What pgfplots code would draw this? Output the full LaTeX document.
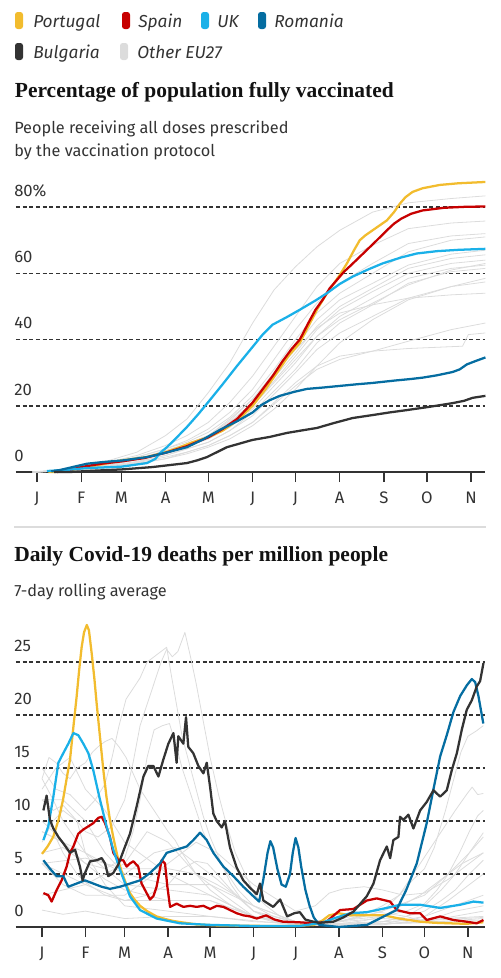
\documentclass[border=0pt]{standalone}
\usepackage{fontspec}
\setmainfont{Fira Sans}
\newfontfamily\titlefont{Liberation Serif}
\usepackage{pgfplots}
\pgfplotsset{compat=1.18}
\definecolor{cPT}{HTML}{F2BC2E}
\definecolor{cES}{HTML}{C70000}
\definecolor{cUK}{HTML}{1AB0E8}
\definecolor{cRO}{HTML}{056DA1}
\definecolor{cBG}{HTML}{333333}
\definecolor{cGrey}{HTML}{DCDCDC}
\definecolor{c33}{HTML}{333333}
\definecolor{cTitle}{HTML}{121212}
\newcommand{\ticksize}{\fontsize{12.5}{14}\selectfont}
\pgfplotsset{
  gchart/.style={
    scale only axis,
    width=351.75pt,
    axis x line=bottom, axis y line=left,
    x axis line style={-, draw=c33, line width=1.3pt},
    y axis line style={draw=none},
    xtick={0,31,59,90,120,151,181,212,243,273,304},
    xticklabels={J,F,M,A,M,J,J,A,S,O,N},
    xtick align=outside, ytick align=inside,
    major tick length=7.5pt,
    xtick style={draw=c33, line width=1pt},
    ytick style={draw=none},
    ymajorgrids,
    major grid style={draw=c33, line width=1.1pt, dash pattern=on 3pt off 2pt},
    tick label style={font=\ticksize, text=c33},
    xticklabel style={anchor=north, inner sep=0pt, yshift=-7pt},
    yticklabel style={anchor=base west, inner sep=0pt, xshift=-1.5pt, yshift=8pt},
    clip=false,
  },
  grey/.style={draw=cGrey, line width=0.6pt, line join=round},
  main/.style={line width=1.7pt, line join=round},
}
\begin{document}
\begin{tikzpicture}
\useasboundingbox (0,0) rectangle (375pt,-733.5pt);
% legend
\tikzset{sw/.style={rounded corners=2pt, fill=#1}}
\def\legfont{\fontsize{13}{15}\selectfont\itshape\color{c33}}
\fill[sw=cPT] (11.25pt,-9pt) rectangle (17.25pt,-21.75pt);
\node[anchor=base west, inner sep=0pt] at (24.75pt,-20.8pt) {\legfont Portugal};
\fill[sw=cES] (91.5pt,-9pt) rectangle (97.5pt,-21.75pt);
\node[anchor=base west, inner sep=0pt] at (103.5pt,-20.8pt) {\legfont Spain};
\fill[sw=cUK] (150.75pt,-9pt) rectangle (156.75pt,-21.75pt);
\node[anchor=base west, inner sep=0pt] at (162.75pt,-20.8pt) {\legfont UK};
\fill[sw=cRO] (193.5pt,-9pt) rectangle (199.5pt,-21.75pt);
\node[anchor=base west, inner sep=0pt] at (205.5pt,-20.8pt) {\legfont Romania};
\fill[sw=cBG] (11.25pt,-32.25pt) rectangle (17.25pt,-45pt);
\node[anchor=base west, inner sep=0pt] at (24.75pt,-43.7pt) {\legfont Bulgaria};
\fill[sw=cGrey] (90pt,-32.25pt) rectangle (96pt,-45pt);
\node[anchor=base west, inner sep=0pt] at (102.75pt,-43.7pt) {\legfont Other EU27};
% titles
\def\tfont{\titlefont\bfseries\fontsize{16.1}{19}\selectfont\color{cTitle}}
\def\sfont{\fontsize{12.2}{14}\selectfont\color{c33}}
\node[anchor=base west, inner sep=0pt] at (11pt,-72.75pt) {\tfont Percentage of population fully vaccinated};
\node[anchor=base west, inner sep=0pt] at (10.5pt,-99.75pt) {\sfont People receiving all doses prescribed};
\node[anchor=base west, inner sep=0pt] at (10.5pt,-117pt) {\sfont by the vaccination protocol};
\draw[cGrey, line width=0.8pt] (10.5pt,-395.25pt) -- (364.5pt,-395.25pt);
\node[anchor=base west, inner sep=0pt] at (10.5pt,-420.75pt) {\tfont Daily Covid-19 deaths per million people};
\node[anchor=base west, inner sep=0pt] at (10.5pt,-447pt) {\sfont 7-day rolling average};

% ---------------- chart 1 ----------------
\begin{axis}[gchart, at={(12pt,-354pt)}, anchor=south west,
  height=223.5pt, xmin=-14.7, xmax=313.7, ymin=0, ymax=90,
  ytick={0,20,40,60,80}, yticklabels={0,20,40,60,80\%}]
\addplot[grey] coordinates {(-3,0)(20,0.8)(45,2.8)(70,6)(90,11)(105,16)(120,24)(135,33)(151,45)(166,55)(181,62)(196,68)(212,73)(235,78.5)(260,81.3)(290,82.6)(314,83.4)};
\addplot[grey] coordinates {(-3,0)(20,0.8)(45,2.5)(70,5)(90,8)(105,11)(120,15)(135,21)(151,29)(166,38)(181,47)(196,56)(212,63)(235,68.5)(260,73.5)(290,75.2)(314,75.8)};
\addplot[grey] coordinates {(-3,0)(20,0.6)(45,2)(70,4.5)(90,7)(105,9.5)(120,13)(135,18)(151,25)(166,34)(181,43)(196,51)(212,57)(235,63)(260,69)(290,71.3)(314,72)};
\addplot[grey] coordinates {(-3,0)(20,0.5)(45,2)(70,4.5)(90,7)(105,9)(120,12)(135,16.5)(151,23)(166,31)(181,40)(196,48)(212,54)(235,60)(260,66.5)(290,70)(314,71)};
\addplot[grey] coordinates {(-3,0)(20,0.5)(45,1.8)(70,4)(90,6.5)(105,8.5)(120,11)(135,15.5)(151,22)(166,30)(181,38)(196,46)(212,52)(235,57)(260,62.5)(290,65.8)(314,67)};
\addplot[grey] coordinates {(-3,0)(20,0.5)(45,1.6)(70,3.8)(90,6)(105,8.5)(120,11)(135,15)(151,21)(166,28.5)(181,36)(196,44)(212,50)(235,55.5)(260,61.5)(290,64.5)(314,65.6)};
\addplot[grey] coordinates {(-3,0)(20,0.4)(45,1.6)(70,3.8)(90,6)(105,8)(120,10)(135,14)(151,20)(166,27.5)(181,35)(196,43)(212,49)(235,54.5)(260,60)(290,63)(314,64)};
\addplot[grey] coordinates {(-3,0)(20,0.5)(45,1.8)(70,3.8)(90,6)(105,7.8)(120,10)(135,13.5)(151,19)(166,26)(181,33)(196,41)(212,47)(235,52.5)(260,58.5)(290,61.5)(314,62.5)};
\addplot[grey] coordinates {(-3,0)(20,0.4)(45,1.5)(70,3.2)(90,5)(105,7)(120,9)(135,12.5)(151,18)(166,24.5)(181,31)(196,39)(212,45)(235,50.5)(260,57)(290,60.5)(314,61.5)};
\addplot[grey] coordinates {(-3,0)(20,0.4)(45,1.3)(70,3)(90,5)(105,7)(120,9)(135,12.5)(151,17)(166,23.5)(181,30)(196,37)(212,42)(235,47)(260,52.5)(290,56)(314,57.4)};
\addplot[grey] coordinates {(-3,0)(20,0.5)(45,1.6)(70,3.8)(90,6)(105,8.5)(120,11)(135,16)(151,22)(166,29.5)(181,37)(196,43.5)(212,48)(235,50.5)(260,52.5)(290,53.5)(314,54)};
\addplot[grey] coordinates {(-3,0)(20,0.3)(45,1.2)(70,2.6)(90,4)(105,6)(120,8)(135,11)(151,15)(166,20.5)(181,26)(196,31)(212,34)(235,36.5)(260,39.5)(290,43)(314,45)};
\addplot[grey] coordinates {(-3,0)(20,0.4)(45,1.3)(70,2.8)(90,4.5)(105,6)(120,8)(135,11)(151,15)(166,21)(181,27)(196,32)(212,35)(235,36.5)(260,37.3)(298,38)(302,41.5)(314,42)};
\addplot[grey] coordinates {(-3,0)(20,0.6)(45,1.8)(70,3.8)(90,6)(105,8)(120,10.5)(135,15)(151,20)(166,27)(181,34)(196,41)(212,46)(235,51)(260,56.5)(290,61)(314,63)};
\addplot[grey] coordinates {(-3,0)(20,0.3)(45,1)(70,2.5)(90,4)(105,5.5)(120,7.5)(135,10)(151,14)(166,19)(181,25)(196,32)(212,39)(235,46)(260,52)(290,56)(314,58.5)};
% Portugal
\addplot[main, cPT] coordinates {(8,0)(12,0)(20,0.3)(31,1.2)(45,2.3)(59,3.5)(77,4.5)(90,6)(100,7.5)(109,9)(120,10.5)(130,12.5)(140,15.5)(151,20)(160,25)(168,30)(176,35)(184,39)(190,44)(196,49)(203,54)(208,57)(212,59.5)(217,63)(222,67)(226,70)(230,71.5)(235,73)(240,74.5)(245,76)(250,78.5)(254,81)(258,83)(263,84.6)(270,85.7)(282,86.7)(295,87.2)(314,87.6)};
% Spain
\addplot[main, cES] coordinates {(14,0)(22,0.5)(31,1.5)(45,2.5)(59,3.2)(75,4.2)(90,5.8)(105,7.8)(120,10.5)(130,13)(140,16)(151,21)(158,25)(165,29)(172,33.5)(178,37)(184,40)(190,45)(195,49)(200,52)(205,55.5)(210,58)(215,60.5)(220,62.5)(226,65)(232,67.5)(238,70)(245,73)(250,75)(255,76.5)(262,78)(270,79)(285,79.8)(300,80.1)(314,80.2)};
% UK
\addplot[main, cUK] coordinates {(7,0.3)(20,0.6)(35,1.2)(59,1.6)(77,2.7)(83,4)(86,5.7)(91,7.5)(98,10.5)(105,13.6)(113,17.5)(121,21.7)(130,26.5)(140,32)(151,37.8)(158,41.5)(165,44.5)(175,46.8)(184,49)(195,51.8)(203,54)(212,56.8)(221,59)(232,61.2)(242,63)(255,64.8)(266,66)(280,66.7)(295,67.1)(314,67.4)};
% Romania
\addplot[main, cRO] coordinates {(10,0.2)(16,0.6)(25,1.5)(35,2.5)(46,3)(60,3.5)(77,4.5)(90,5.8)(105,7.5)(117,10)(128,12.7)(140,15.3)(151,18)(157,20.2)(163,21.7)(170,23)(180,24.2)(189,25.1)(200,25.5)(212,26)(224,26.5)(235,26.9)(250,27.6)(262,28.1)(270,28.5)(280,29.2)(291,30.2)(296,31)(301,32.5)(307,33.5)(314,34.6)};
% Bulgaria
\addplot[main, cBG] coordinates {(12,0)(23,0)(40,0.4)(60,0.8)(81,1.5)(95,2.2)(105,2.7)(112,3.5)(119,4.5)(126,6)(133,7.5)(142,8.6)(151,9.7)(163,10.6)(175,11.8)(186,12.6)(196,13.3)(208,14.8)(221,16.3)(235,17.2)(247,18)(259,18.7)(275,19.7)(291,20.8)(299,21.5)(305,22.4)(314,23)};
\end{axis}

% ---------------- chart 2 ----------------
\begin{axis}[gchart, at={(12pt,-695.25pt)}, anchor=south west,
  height=230.5pt, xmin=-18.55, xmax=316.2, ymin=0, ymax=29,
  ytick={0,5,10,15,20,25}, yticklabels={0,5,10,15,20,25}]
\addplot[grey] coordinates {(0,12)(8,11)(15,11.5)(25,10)(31,9)(40,8.5)(50,9.5)(59,12)(65,15.5)(70,19)(75,21)(80,23)(85,25)(89,26.2)(93,25.5)(97,26)(102,27.8)(106,25.5)(110,23)(115,19.5)(120,16)(126,12.5)(131,10)(138,7)(145,5)(152,3)(160,2)(170,1)(181,0.5)(200,0.2)(212,0.3)(230,0.6)(243,1)(260,1.5)(273,2.2)(282,3.5)(290,5)(298,7)(305,9)(311,10.5)(315,11)};
\addplot[grey] coordinates {(0,15)(5,14)(10,13)(20,12.5)(31,11)(38,12)(45,13.5)(50,16)(55,19)(60,21.5)(65,22.5)(70,23.5)(75,25)(80,25.5)(85,26)(89,26.4)(92,24)(96,21)(100,18)(105,15.5)(110,13)(115,10.5)(120,8.5)(128,6)(135,4)(143,2.5)(151,1.5)(165,0.6)(181,0.3)(212,0.2)(243,0.5)(260,1)(273,1.5)(285,2.5)(295,3.5)(305,5)(315,6.3)};
\addplot[grey] coordinates {(0,14)(5,16)(10,15.5)(15,14.5)(20,14)(25,15)(31,15.5)(36,16.5)(40,17)(45,17.5)(50,17.8)(55,17)(60,16)(65,14.5)(70,13)(75,12)(80,11)(85,10)(90,9)(95,8.2)(100,7)(110,5)(120,3.5)(130,2.5)(140,1.6)(151,1)(165,0.5)(181,0.2)(212,0.1)(243,0.5)(260,1)(273,2)(285,3.5)(295,5)(305,7)(315,8.5)};
\addplot[grey] coordinates {(0,10)(8,9)(15,7)(25,5)(31,4.2)(45,3)(59,2.5)(75,3)(90,4)(100,5.5)(110,6.2)(118,6)(125,5)(135,3.5)(151,1.5)(165,0.8)(181,0.3)(212,0.5)(230,1.2)(243,2)(255,3)(265,4.5)(273,5.5)(280,7.5)(288,11)(294,14)(299,16.5)(304,18)(310,18.5)(315,19)};
\addplot[grey] coordinates {(0,12)(15,12)(31,10)(45,7)(59,5)(90,4)(120,4)(151,2)(181,0.5)(212,0.5)(230,1)(243,1.5)(255,3)(265,5)(275,7)(285,9)(295,11)(303,12.5)(307,13.2)(311,12.5)(315,12.6)};
\addplot[grey] coordinates {(0,14)(8,12)(15,10)(31,7)(45,5.5)(59,4)(90,3.5)(120,3)(151,1)(181,0.3)(212,0.5)(243,1.5)(273,3)(290,5)(305,7)(315,8.9)};
\addplot[grey] coordinates {(0,7)(15,7.5)(31,6)(45,5.5)(59,6.5)(65,9)(70,12)(75,16)(80,18.6)(86,19)(91,19.2)(96,17)(100,15)(105,13)(110,11)(115,9)(120,7.5)(130,5.5)(140,3.5)(151,2)(165,1)(181,0.4)(212,0.2)(243,0.2)(260,0.5)(273,1)(290,2.5)(305,4)(315,5)};
\addplot[grey] coordinates {(0,9)(15,8)(31,7)(45,6)(59,5)(70,6)(80,7)(95,7.5)(110,6)(125,4.5)(151,1.5)(181,0.5)(212,0.5)(243,0.8)(273,0.6)(315,0.9)};
\addplot[grey] coordinates {(0,9)(15,8)(31,6)(45,4.5)(59,3.5)(90,2.5)(120,2.5)(151,1)(181,0.3)(243,0.3)(273,0.5)(315,1.5)};
\addplot[grey] coordinates {(0,6)(15,4)(31,3)(59,3)(75,4.5)(90,6)(110,8)(125,7)(151,4)(181,1.5)(195,2)(205,3.2)(215,3.6)(230,3.8)(243,3.5)(258,3)(273,3.2)(290,4.5)(305,6)(315,7)};
\addplot[grey] coordinates {(0,8)(8,10)(15,11)(25,10)(31,7)(45,4)(59,2)(90,1.5)(120,1)(151,0.5)(212,0.2)(273,0.4)(315,0.8)};
\addplot[grey] coordinates {(0,6)(31,6.5)(59,5.5)(90,5.5)(110,5)(125,4)(151,2)(181,0.5)(212,0.7)(235,1.5)(260,1)(273,0.5)(315,0.6)};
\addplot[grey] coordinates {(0,3)(15,3.5)(31,4)(45,5)(59,6)(75,9)(90,8)(110,5)(130,3)(151,1)(181,0.2)(243,1)(270,3)(290,5)(300,6)(315,7)};
\addplot[grey] coordinates {(0,1.6)(15,1.2)(31,1.5)(59,0.8)(90,1)(120,1)(181,0.2)(243,0.5)(315,1)};
\addplot[grey] coordinates {(0,6)(31,4)(59,2.5)(90,2.5)(120,2.5)(151,1)(181,0.2)(243,0.3)(273,0.5)(295,1.5)(315,2)};
\addplot[grey] coordinates {(0,13)(10,15)(20,16)(31,13)(45,11)(59,8)(90,5)(120,3)(151,1)(181,0.2)(243,0.3)(273,1)(315,3)};
% Portugal
\addplot[main, cPT] coordinates {(0,6.9)(4,7.6)(8,8.5)(12,10.2)(15,12)(18,14.3)(20,15.8)(22.5,19)(24.7,21.7)(26.5,24.2)(28.3,26.4)(30,27.8)(32,28.5)(33.5,28)(35.5,25.8)(37.5,23.3)(39,21.1)(41.5,17.8)(43.8,14.8)(46,12.3)(48.5,10.1)(51,8.4)(53.3,7)(55.5,5.8)(58,4.8)(60.5,3.9)(62.8,3.2)(66,2.6)(70,2)(75,1.5)(81.8,1)(88,0.75)(93.7,0.57)(102,0.4)(110,0.25)(125,0.15)(160,0.1)(180,0.1)(194,0.2)(200,0.6)(205,1.1)(212,1.3)(220,1.1)(232,1.1)(244,1.1)(255,0.8)(262,0.66)(270,0.5)(280,0.4)(291,0.35)(303,0.3)(315,0.45)};
% Spain
\addplot[main, cES] coordinates {(1,3.2)(4.5,3.0)(6.9,2.4)(10.5,3.5)(14,4.4)(17.6,5.7)(20,7.0)(22.4,7.6)(25.9,8.8)(29.5,9.2)(33.1,9.5)(36.6,9.8)(40.2,10.3)(42.6,10.4)(45,9.8)(48.5,8.5)(50.9,7.0)(54.5,6.3)(58,6.3)(60.4,5.7)(62.8,6.0)(65.2,6.2)(68.7,5.7)(71.1,4.1)(74.7,3.2)(77.1,2.6)(79.5,2.9)(81.8,3.8)(85.4,6.3)(87.8,6.0)(89.5,3.8)(91.4,1.9)(96.1,2.2)(100.9,1.9)(105.7,2.0)(110.4,1.9)(115.2,2.0)(120,1.7)(124.7,2.0)(129.5,1.9)(134.2,1.6)(139,1.3)(143.7,1.1)(148.5,1.0)(153.3,0.8)(160,1.1)(166,0.7)(172,0.5)(183,0.45)(194,0.35)(203,0.5)(212.8,1.6)(222.3,1.7)(231.8,2.5)(238.9,2.7)(248.5,2.4)(253.2,1.6)(262.7,1.3)(269.9,1.3)(274.6,0.66)(284.2,1.0)(293.7,0.66)(303.2,0.5)(310.3,0.35)(315.1,0.66)};
% UK
\addplot[main, cUK] coordinates {(1,8.2)(4.5,9.5)(8.1,12.3)(11.7,15.5)(15.2,16.4)(18.8,17.3)(22.4,18.3)(25.9,18.1)(29.5,17.3)(33.1,16.4)(36.6,14.8)(41.4,12.0)(46.1,9.5)(50.9,7.3)(55.7,5.4)(62.8,2.9)(70,1.6)(81.8,0.8)(98.5,0.35)(120,0.2)(150,0.1)(184,0.1)(200,0.4)(208,0.8)(219.9,1.3)(231.8,1.4)(246,1.8)(255.6,2.1)(269.9,2.1)(284.2,1.8)(298.5,2.1)(308,2.4)(315.1,2.3)};
% Romania
\addplot[main, cRO] coordinates {(1,6.3)(5.7,5.5)(10.5,4.8)(15.2,4.8)(18.8,3.8)(24.7,4.1)(30.7,4.4)(36.6,4.1)(42.6,3.8)(48.5,3.6)(55.7,3.8)(62.8,4.1)(70,4.4)(77.1,5.1)(84.2,6.0)(89,7.0)(96.1,7.3)(103.3,7.6)(108,8.2)(112.8,8.9)(117.6,8.2)(122.3,7.0)(129.5,5.7)(136.6,4.8)(143.7,3.8)(150.9,2.9)(155,2.4)(158,4.5)(161,7)(163,8.1)(165,7.5)(168,5.5)(171,4.0)(174,3.8)(177,5)(179,7)(181,8.4)(183,7.5)(185,5.7)(188,3.5)(191,2)(194,0.9)(198,0.2)(212,0)(232,0.2)(244,1.0)(253,1.6)(260,3.5)(267.5,6.0)(274.6,9.8)(279.4,13)(284.2,16.1)(288.9,18.1)(293.7,20.3)(298.5,21.8)(303.2,22.8)(306.8,23.4)(309.2,23.1)(311.5,21.8)(315,19.2)};
% Bulgaria
\addplot[main, cBG] coordinates {(1,11.0)(3.3,12.4)(5.7,10.1)(8.1,9.3)(11.7,8.5)(15.2,7.9)(20,7.0)(23.6,7.3)(27.1,5.7)(29,4.4)(30.7,5.1)(34.3,6.2)(39,6.3)(42.6,6.5)(45,6.0)(47.3,4.8)(50.9,5.1)(54.5,5.9)(59.3,7.6)(62.8,8.8)(67.6,11.4)(72.4,14.2)(75.9,15.2)(79.5,15.2)(83.1,14.2)(86.6,15.8)(90.2,17.3)(93.8,18.3)(96.1,15.5)(97.3,18.0)(100.9,17.3)(102.8,19.8)(104.4,17.0)(108,16.4)(111.6,15.2)(115.2,14.5)(117.6,15.5)(120,13.2)(122.3,10.7)(124.7,10.0)(128.3,9.4)(130.6,10.0)(134.2,7.5)(139,5.6)(143.7,4.4)(148.5,3.7)(153.3,3.1)(155.6,4.1)(158,2.5)(165,1.9)(170,2.6)(175,1.0)(180,1.3)(184,1.4)(188,0.7)(193.7,0.5)(198,0.4)(208,0.5)(215,0.9)(222.3,1.45)(231.8,2.9)(236.6,4.1)(241.3,6.3)(246.1,7.6)(248.5,6.5)(250.8,8.2)(254.4,8.5)(255.6,10.4)(258,10.1)(261.5,10.6)(265.1,9.3)(269.9,11.0)(274.6,11.8)(279.4,12.9)(284.2,12.3)(288.9,12.9)(292.5,14.8)(296.1,16.4)(299.6,18.6)(303.2,20.5)(306.8,21.4)(310.3,22.7)(312.7,23.2)(315.1,24.9)};
\end{axis}
\end{tikzpicture}
\end{document}
